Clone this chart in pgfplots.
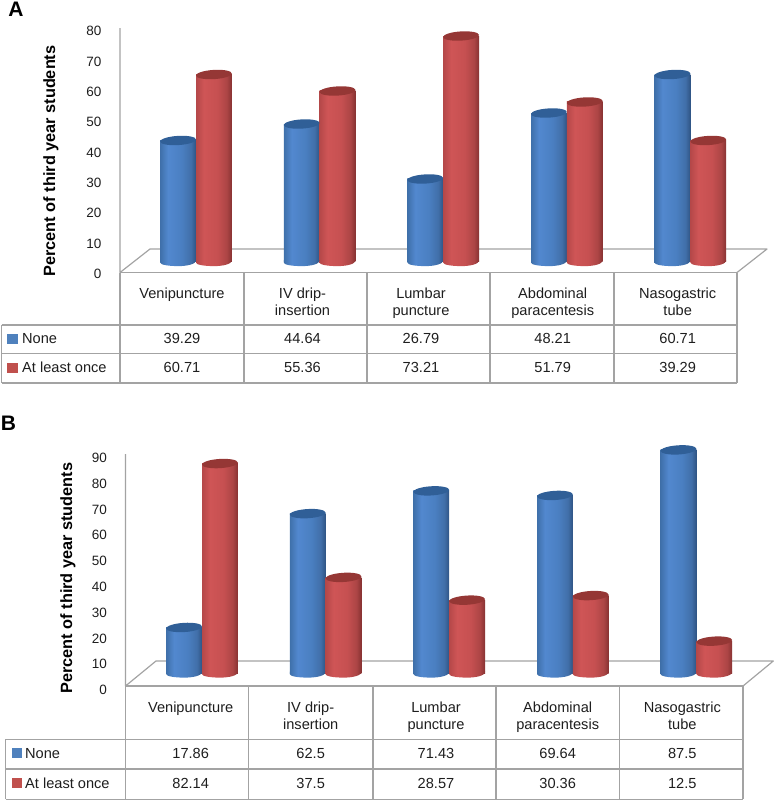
\documentclass[border=0pt]{standalone}
\usepackage{fontspec}
\setmainfont{Liberation Sans}
\usepackage{pgfplots}
\usepackage{pgfplotstable}
\pgfplotsset{compat=1.18}

\definecolor{gridgrey}{HTML}{A3A3A3}
\definecolor{txt}{HTML}{1E1E1E}
\definecolor{noneblue}{HTML}{4F81BD}
\definecolor{oncered}{HTML}{C0504D}
\definecolor{bluecap}{HTML}{305F97}
\definecolor{redcap}{HTML}{953735}
\definecolor{b0}{HTML}{3F70AA}
\definecolor{b1}{HTML}{5288CF}
\definecolor{b2}{HTML}{4A7FC1}
\definecolor{b3}{HTML}{416FA9}
\definecolor{b4}{HTML}{2F5484}
\definecolor{r0}{HTML}{B54849}
\definecolor{r1}{HTML}{CF5556}
\definecolor{r2}{HTML}{C65051}
\definecolor{r3}{HTML}{AC4545}
\definecolor{r4}{HTML}{873232}

% cylinder body, left to right (bbox maps on 25bp..75bp)
\pgfdeclarehorizontalshading{bluecyl}{100bp}{
  color(0bp)=(b0); color(25bp)=(b0); color(36bp)=(b1); color(55bp)=(b2);
  color(68bp)=(b3); color(75bp)=(b4); color(100bp)=(b4)}
\pgfdeclarehorizontalshading{redcyl}{100bp}{
  color(0bp)=(r0); color(25bp)=(r0); color(36bp)=(r1); color(55bp)=(r2);
  color(68bp)=(r3); color(75bp)=(r4); color(100bp)=(r4)}

% end caps of the cylinders, shifted to their half of the group
\newcommand{\capellipse}[1]{\pgfpathellipse{\pgfpoint{#1}{0pt}}{\pgfpoint{17.9pt}{1.1pt}}{\pgfpoint{-0.3pt}{4.6pt}}}
% marks lie above the bars, so the foot is only the lower half of the ellipse
\newcommand{\cylfoot}[1]{%
  \pgftransformxshift{#1}%
  \pgfpathmoveto{\pgfpoint{-17.9pt}{-1.1pt}}%
  \pgfpathcurveto{\pgfpoint{-17.9pt}{-3.2pt}}{\pgfpoint{-9.9pt}{-4.6pt}}{\pgfpoint{0pt}{-4.6pt}}%
  \pgfpathcurveto{\pgfpoint{9.9pt}{-4.6pt}}{\pgfpoint{17.9pt}{-2.4pt}}{\pgfpoint{17.9pt}{1.1pt}}%
  \pgfpathlineto{\pgfpoint{17.9pt}{1.5pt}}\pgfpathlineto{\pgfpoint{-17.9pt}{1.5pt}}\pgfpathclose}
\pgfdeclareplotmark{bluebase}{\cylfoot{-17.9pt}\pgfshadepath{bluecyl}{0}\pgfusepath{discard}}
\pgfdeclareplotmark{redbase}{\cylfoot{17.9pt}\pgfshadepath{redcyl}{0}\pgfusepath{discard}}
\pgfdeclareplotmark{bluetop}{\capellipse{-17.9pt}\pgfsetfillcolor{bluecap}\pgfusepathqfill}
\pgfdeclareplotmark{redtop}{\capellipse{17.9pt}\pgfsetfillcolor{redcap}\pgfusepathqfill}

\pgfplotstableread{
x base none once
0 0 39.29 60.71
1 0 44.64 55.36
2 0 26.79 73.21
3 0 48.21 51.79
4 0 60.71 39.29
}\tableA
\pgfplotstableread{
x base none once
0 0 17.86 82.14
1 0 62.5 37.5
2 0 71.43 28.57
3 0 69.64 30.36
4 0 87.5 12.5
}\tableB

\newcommand{\fs}[1]{\fontsize{#1}{#1}\selectfont}

\pgfplotsset{
  cyl axis/.style={scale only axis, hide axis, clip=false, anchor=south west,
    width=618pt, xmin=-0.5, xmax=4.5, ymin=0},
  tick axis/.style={scale only axis, anchor=south west, width=617pt, xmin=0, xmax=1,
    axis x line=none, axis y line=left, y axis line style={draw=none},
    major tick length=0pt, ymin=0, ytick distance=10,
    /pgf/number format/assume math mode=true,
    tick label style={font=\fs{13.5}, text=txt},
    ylabel={Percent of third year students},
    ylabel style={font=\fs{16.3}\bfseries, text=black}},
  bar body/.style={ybar, bar width=35.8pt, draw=none},
}

% one shaded bar for each row: a shading spans the whole path of a plot
\newcommand{\cylinders}[1]{
  \addplot[only marks, mark=bluebase] table[x=x, y=base] {#1};
  \addplot[only marks, mark=redbase] table[x=x, y=base] {#1};
  \pgfplotsinvokeforeach{0,...,4}{
    \addplot[bar body, bar shift=-17.9pt, shading=bluecyl, restrict x to domain=##1:##1] table[x=x, y=none] {#1};
    \addplot[bar body, bar shift=17.9pt, shading=redcyl, restrict x to domain=##1:##1] table[x=x, y=once] {#1};
  }
  \addplot[only marks, mark=bluetop] table[x=x, y=none] {#1};
  \addplot[only marks, mark=redtop] table[x=x, y=once] {#1};
}

\begin{document}
\begin{tikzpicture}[x=1pt, y=-1pt, cell/.style={text=txt, inner sep=0pt, font=\fs{14.6}, text height=10.4pt, text depth=0pt}]
\path[use as bounding box] (0,0) rectangle (775,801);

%% panel A
\node[inner sep=0pt, font=\fs{21}\bfseries, text=black] at (16,9) {A};
\draw[gridgrey, line width=1.2pt, line join=round] (120,28) -- (120,272.5) -- (150,249) -- (767,249) -- (737,272.5);
\begin{axis}[tick axis, at={(120pt,-273pt)}, height=243pt, ymax=80,
    every axis y label/.append style={at={(axis description cs:-0.112,0.461)}, anchor=center},
    yticklabel style={xshift=-15pt, yshift=-1pt}]
\end{axis}
\begin{axis}[cyl axis, at={(134.2pt,-261.5pt)}, height=246.4pt, ymax=80]
\cylinders{\tableA}
\end{axis}
\draw[gridgrey, line width=1.2pt]
  (120,272.5) -- (737,272.5) (1.5,325) -- (737,325) (1.5,353.5) -- (737,353.5) (1.5,383) -- (737,383)
  (1.5,325) -- (1.5,383) (120,272.5) -- (120,383) (244,272.5) -- (244,383) (367,272.5) -- (367,383)
  (490,272.5) -- (490,383) (614,272.5) -- (614,383) (737,272.5) -- (737,383);
\fill[noneblue] (7.3,333.7) rectangle (17.5,343.7);
\fill[oncered] (7.3,362.7) rectangle (17.5,372.7);
\begin{scope}[every node/.style={cell}]
\node[anchor=west] at (22,338.7) {None};
\node[anchor=west] at (22,367.7) {At least once};
\node at (182,293) {Venipuncture};
\node at (302.5,293) {IV drip-};
\node at (302.5,310.7) {insertion};
\node at (421,293) {Lumbar};
\node at (421,310.7) {puncture};
\node at (552.7,293) {Abdominal};
\node at (552.7,310.7) {paracentesis};
\node at (677.7,293) {Nasogastric};
\node at (677.7,310.7) {tube};
\node at (182,338.7) {39.29};
\node at (302.5,338.7) {44.64};
\node at (421,338.7) {26.79};
\node at (552.7,338.7) {48.21};
\node at (677.7,338.7) {60.71};
\node at (182,367.7) {60.71};
\node at (302.5,367.7) {55.36};
\node at (421,367.7) {73.21};
\node at (552.7,367.7) {51.79};
\node at (677.7,367.7) {39.29};
\end{scope}

%% panel B
\node[inner sep=0pt, font=\fs{21}\bfseries, text=black] at (8.5,423) {B};
\draw[gridgrey, line width=1.2pt, line join=round] (125.5,454) -- (125.5,686) -- (156,661) -- (773.3,661) -- (743,686);
\begin{axis}[tick axis, at={(125.5pt,-689pt)}, height=232pt, ymax=90,
    every axis y label/.append style={at={(axis description cs:-0.0932,0.478)}, anchor=center},
    yticklabel style={xshift=-15pt, yshift=-1pt}]
\end{axis}
\begin{axis}[cyl axis, at={(140.2pt,-673pt)}, height=229.5pt, ymax=90]
\cylinders{\tableB}
\end{axis}
\draw[gridgrey, line width=1.2pt]
  (125.5,686) -- (743,686) (5.5,739.3) -- (743,739.3) (5.5,769) -- (743,769) (5.5,799.3) -- (743,799.3)
  (5.5,739.3) -- (5.5,799.3) (125.5,686) -- (125.5,799.3) (248.7,686) -- (248.7,799.3) (373,686) -- (373,799.3)
  (496,686) -- (496,799.3) (619.3,686) -- (619.3,799.3) (743,686) -- (743,799.3);
\fill[noneblue] (11.7,748.3) rectangle (21.7,758.3);
\fill[oncered] (11.7,778) rectangle (21.7,788);
\begin{scope}[every node/.style={cell}]
\node[anchor=west] at (25,753.3) {None};
\node[anchor=west] at (25,783) {At least once};
\node at (190.7,707) {Venipuncture};
\node at (310.7,707) {IV drip-};
\node at (310.7,724.7) {insertion};
\node at (436,707) {Lumbar};
\node at (436,724.7) {puncture};
\node at (557.7,707) {Abdominal};
\node at (557.7,724.7) {paracentesis};
\node at (682.3,707) {Nasogastric};
\node at (682.3,724.7) {tube};
\node at (190.7,753.3) {17.86};
\node at (310.7,753.3) {62.5};
\node at (436,753.3) {71.43};
\node at (557.7,753.3) {69.64};
\node at (682.3,753.3) {87.5};
\node at (190.7,783) {82.14};
\node at (310.7,783) {37.5};
\node at (436,783) {28.57};
\node at (557.7,783) {30.36};
\node at (682.3,783) {12.5};
\end{scope}
\end{tikzpicture}
\end{document}
